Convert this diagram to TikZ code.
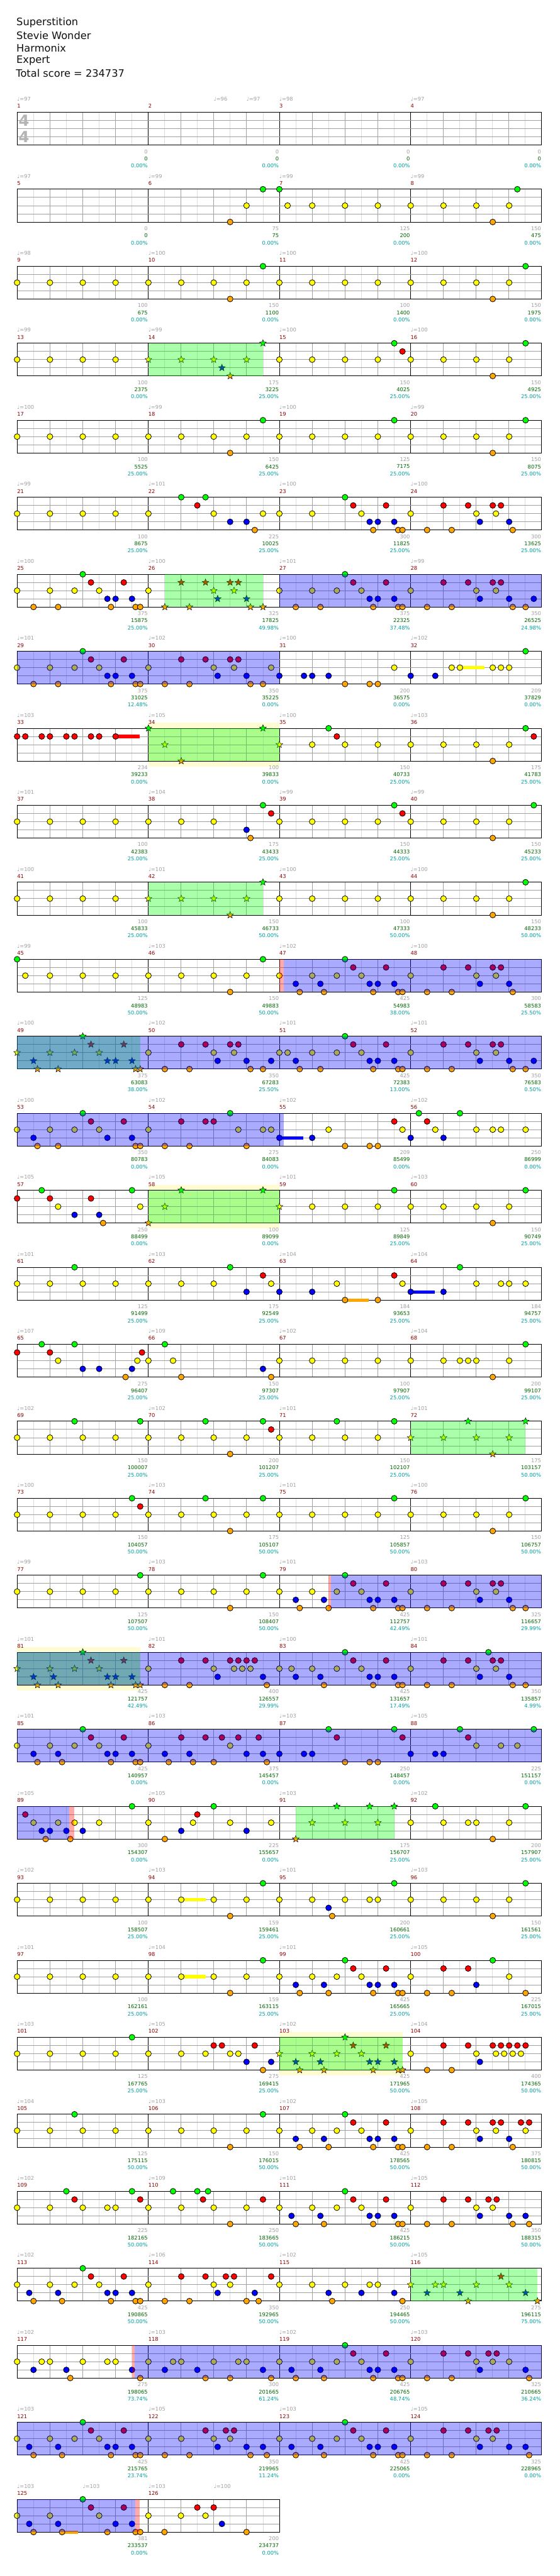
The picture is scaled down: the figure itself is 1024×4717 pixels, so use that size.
\documentclass[tikz,border=0pt]{standalone}
\usepackage{fontspec}
\setmainfont{DejaVu Sans}
\usetikzlibrary{shapes.geometric}
\definecolor{inkText}{RGB}{17,17,17}
\definecolor{inkGrid}{RGB}{160,160,160}
\definecolor{inkSub}{RGB}{220,220,220}
\definecolor{inkMeter}{RGB}{180,180,180}
\definecolor{inkBar}{RGB}{139,0,0}
\definecolor{inkTotal}{RGB}{0,100,0}
\definecolor{inkPct}{RGB}{0,160,160}
\definecolor{lane0}{RGB}{0,255,0}
\definecolor{lane1}{RGB}{255,0,0}
\definecolor{lane2}{RGB}{255,255,0}
\definecolor{lane3}{RGB}{0,0,255}
\definecolor{lane4}{RGB}{255,165,0}

\tikzset{
  lanes/.style={x=0.65306pt, xshift=-0.047pt},
  songline/.style={anchor=west, inner sep=0pt, text=inkText, font=\fontsize{18.7}{22}\selectfont},
  timesig/.style={inner sep=0pt, text=inkMeter, font=\fontsize{28}{28}\selectfont\bfseries},
  chartfont/.style={inner sep=0pt, font=\fontsize{9.6}{11}\selectfont},
  barnum/.style={chartfont, anchor=west, text=inkBar},
  bpm/.style={chartfont, anchor=west, text=inkGrid},
  pts/.style={chartfont, anchor=east, text=inkGrid},
  total/.style={chartfont, anchor=east, text=inkTotal},
  pct/.style={chartfont, anchor=east, text=inkPct},
  subline/.style={draw=inkSub, line width=1pt},
  beatline/.style={draw=inkGrid, line width=1pt},
  barline/.style={draw=black, line width=1pt},
  gem/.style={draw=black, line width=0.9pt},
  spstar/.style={star, star points=5, star point ratio=2.3, minimum size=13pt, inner sep=0pt, draw=black, line width=0.6pt},
  soloarea/.style={fill=yellow, fill opacity=0.18},
}

\newcommand\quarterbeats{48,140,232,324,416,508,599,691,783,875,967,1059,1151,1243,1335,1427}
\newcommand\rowtop[1]{\pgfmathsetmacro\T{205.5+141*#1}}
% #1 row, #2 first bar, #3 tempo marks, #4 scores, #5 bars in the row
\newcommand\staff[5]{%
  \rowtop{#1}%
  \pgfmathsetmacro\R{31.3+240*#5}%
  \pgfmathtruncatemacro\nh{8*#5-1}%
  \pgfmathtruncatemacro\nb{#5-1}%
  \foreach \k in {1,3,...,\nh} \draw[subline] (31.3+30*\k,\T) -- ++(0,60);
  \foreach \k in {2,4,...,\nh} \draw[beatline] (31.3+30*\k,\T) -- ++(0,60);
  \foreach \k in {1,...,\nb} \draw[barline] (31.3+240*\k,\T) -- ++(0,60);
  \foreach \l in {1,2,3} \draw[beatline] (31.3,\T+15*\l) -- (\R,\T+15*\l);
  \draw[barline] (31.3,\T) rectangle (\R,\T+60);
  \foreach \k in {1,...,#5}{
    \pgfmathtruncatemacro\m{#2+\k-1}
    \node[barnum] (bar\m) at (31.3+240*\k-240,\T-11) {\m};
  }
  \foreach \a/\v [count=\i] in {#3}
    \node[bpm] (bpm#1-\i) at ({-0.047+0.65306*\a},\T-24) {♩=\v};
  \foreach \ptsv/\totv/\pctv [count=\k] in {#4}{
    \pgfmathtruncatemacro\m{#2+\k-1}
    \node[pts] (pts\m) at (30.5+240*\k,\T+72) {\ptsv};
    \node[total] (total\m) at (30.5+240*\k,\T+85) {\totv};
    \node[pct] (pct\m) at (30.5+240*\k,\T+98) {\pctv\%};
  }
}
\newcommand\soloband[2]{%
  \rowtop{#1}%
  \begin{scope}[lanes]
    \foreach \a/\b in {#2} \fill[soloarea] (\a,\T-10) rectangle (\b,\T+70);
  \end{scope}}
\newcommand\holds[2]{%
  \rowtop{#1}%
  \begin{scope}[lanes]
    \foreach \a/\b/\l in {#2} \fill[lane\l] (\a,\T+15*\l-3) rectangle (\b,\T+15*\l+3);
  \end{scope}}
\newcommand\gems[3]{%
  \rowtop{#1}%
  \edef\gemlist{#3}%
  \begin{scope}[lanes]
    \foreach \a in \gemlist \filldraw[gem, fill=lane#2] (\a,\T+15*#2) circle[radius=5.3pt];
  \end{scope}}
\newcommand\spstars[2]{%
  \rowtop{#1}%
  \begin{scope}[lanes]
    \foreach \a/\l [count=\i] in {#2} \node[spstar, fill=lane\l] (star#1-\i) at (\a,\T+15*\l) {};
  \end{scope}}
\newcommand\tint[2]{%
  \rowtop{#1}%
  \begin{scope}[lanes]
    \foreach \q/\a/\b in {#2} \fill[fill=\q, fill opacity=0.333] (\a,\T) rectangle (\b,\T+60);
  \end{scope}}

\begin{document}
\begin{tikzpicture}[x=1pt, y=-1pt]
\useasboundingbox (0,0) rectangle (1024,4717);
\fill[white] (0,0) rectangle (1024,4717);

% header
\node[songline] (song) at (30,42) {Superstition};
\node[songline] (artist) at (30,65) {Stevie Wonder};
\node[songline] (charter) at (30,88) {Harmonix};
\node[songline] (level) at (30,111) {Expert};
\node[songline] (score) at (29,134) {Total score = 234737};

% bars 1-4
\staff{0}{1}{48/97,599/96,691/97,783/98,1151/97}{0/0/0.00,0/0/0.00,0/0/0.00,0/0/0.00}{4}
\node[timesig] (meterTop) at (44,221) {4};
\node[timesig] (meterBot) at (44,250.5) {4};

% bars 5-8
\staff{1}{5}{48/97,416/99,783/99,1151/99}{0/0/0.00,75/75/0.00,125/200/0.00,150/475/0.00}{4}
\gems{1}{0}{737,783,1450}
\gems{1}{2}{691,806,875,967,1059,1151,1243,1335,1427}
\gems{1}{4}{645,1381}

% bars 9-12
\staff{2}{9}{48/98,416/100,783/100,1151/100}{100/675/0.00,150/1100/0.00,100/1400/0.00,150/1975/0.00}{4}
\gems{2}{2}{\quarterbeats}
\gems{2}{0}{737,1473}
\gems{2}{4}{645,1381}

% bars 13-16
\staff{3}{13}{48/99,416/99,783/100,1151/100}{100/2375/0.00,175/3225/25.00,150/4025/25.00,150/4925/25.00}{4}
\gems{3}{2}{48,140,232,324,783,875,967,1059,1151,1243,1335,1427}
\gems{3}{0}{1105,1473}
\gems{3}{1}{1128}
\gems{3}{4}{1381}
\spstars{3}{416/2,508/2,599/2,691/2,622/3,645/4,737/0}
\tint{3}{green/416/737}

% bars 17-20
\staff{4}{17}{48/100,416/99,783/100,1151/99}{100/5525/25.00,150/6425/25.00,125/7175/25.00,150/8075/25.00}{4}
\gems{4}{2}{\quarterbeats}
\gems{4}{0}{737,1105,1473}
\gems{4}{4}{645,1381}

% bars 21-24
\staff{5}{21}{48/99,416/101,783/100,1151/100}{100/8675/25.00,225/10025/25.00,300/11825/25.00,300/13625/25.00}{4}
\gems{5}{0}{508,576,967}
\gems{5}{1}{553,990,1082,1243,1312,1381,1404}
\gems{5}{2}{48,140,232,324,416,599,737,783,875,1013,1151,1335,1390}
\gems{5}{3}{645,691,1036,1059,1105,1345,1427}
\gems{5}{4}{714,1046,1116,1128,1197,1266,1437}

% bars 25-28
\staff{6}{25}{48/100,416/100,783/101,1151/99}{375/15875/25.00,325/17825/49.98,375/22325/37.48,350/26525/24.98}{4}
\gems{6}{0}{232,967}
\gems{6}{1}{255,347,990,1082,1243,1312,1381,1404}
\gems{6}{2}{48,140,209,278,416,783,875,944,1013,1151,1335,1390}
\gems{6}{3}{301,324,370,1036,1059,1105,1345,1427,1496}
\gems{6}{4}{94,163,311,380,393,829,898,1046,1116,1128,1197,1266,1437,1473}
\spstars{6}{508/1,576/1,645/1,668/1,599/2,656/2,610/3,691/3,462/4,531/4,702/4,737/4}
\tint{6}{green/462/737,blue/783/1518}

% bars 29-32
\staff{7}{29}{48/101,416/102,783/100,1151/102}{375/31025/12.48,350/35225/0.00,200/36575/0.00,209/37829/0.00}{4}
\holds{7}{1289/1357/2}
\gems{7}{0}{232,1473}
\gems{7}{1}{255,347,508,576,645,668}
\gems{7}{2}{48,140,209,278,416,599,656,760,1105,1266,1289,1381,1404,1427}
\gems{7}{3}{301,324,370,610,691,783,852,875,921,1151,1220}
\gems{7}{4}{94,163,311,380,393,462,531,702,737,967,1036,1059}
\tint{7}{blue/48/783}

% bars 33-36
\soloband{8}{416/783}
\staff{8}{33}{48/103,416/105,783/100,1151/103}{234/39233/0.00,100/39833/0.00,150/40733/25.00,175/41783/25.00}{4}
\holds{8}{324/391/1}
\gems{8}{0}{921,1473}
\gems{8}{1}{48,71,117,140,186,209,255,278,324,944,1496}
\gems{8}{2}{875,967,1059,1151,1243,1335,1427}
\gems{8}{4}{1381}
\spstars{8}{416/0,737/0,462/2,783/2,508/4}
\tint{8}{green/416/783}

% bars 37-40
\staff{9}{37}{48/101,416/104,783/99,1151/99}{100/42383/25.00,175/43433/25.00,150/44333/25.00,150/45233/25.00}{4}
\gems{9}{0}{737,1105,1496}
\gems{9}{1}{760,1128}
\gems{9}{2}{48,140,232,324,416,508,599,783,875,967,1059,1151,1243,1335,1427}
\gems{9}{3}{691}
\gems{9}{4}{702,1381}

% bars 41-44
\staff{10}{41}{48/100,416/101,783/100,1151/100}{100/45833/25.00,150/46733/50.00,100/47333/50.00,150/48233/50.00}{4}
\gems{10}{2}{48,140,232,324,783,875,967,1059,1151,1243,1335,1427}
\gems{10}{0}{1473}
\gems{10}{4}{1381}
\spstars{10}{416/2,508/2,599/2,691/2,645/4,737/0}
\tint{10}{green/416/737}

% bars 45-48
\staff{11}{45}{48/99,416/103,783/102,1151/100}{125/48983/50.00,150/49883/50.00,425/54983/38.00,300/58583/25.50}{4}
\gems{11}{0}{48,737,967}
\gems{11}{1}{990,1082,1243,1312,1381,1404}
\gems{11}{2}{71,140,232,324,416,508,599,691,783,875,944,1013,1151,1335,1390}
\gems{11}{3}{829,898,1036,1059,1105,1345,1427}
\gems{11}{4}{645,840,908,1046,1116,1128,1197,1266,1437}
\tint{11}{red/783/796,blue/796/1518}

% bars 49-52
\staff{12}{49}{48/100,416/102,783/101,1151/101}{375/63083/38.00,350/67283/25.50,425/72383/13.00,350/76583/0.50}{4}
\gems{12}{0}{967}
\gems{12}{1}{508,576,645,668,990,1082,1243,1312,1381,1404}
\gems{12}{2}{416,599,656,783,806,875,944,1013,1151,1335,1390}
\gems{12}{3}{610,691,760,829,1036,1059,1105,1345,1427,1496}
\gems{12}{4}{462,531,702,737,840,898,1046,1116,1128,1197,1266,1437,1473}
\spstars{12}{48/2,140/2,209/2,278/2,232/0,255/1,347/1,94/3,301/3,324/3,370/3,105/4,163/4,380/4,393/4}
\tint{12}{green/48/393,blue/48/1518}

% bars 53-56
\staff{13}{53}{48/100,416/102,783/102,1151/102}{350/80783/0.00,275/84083/0.00,209/85499/0.00,250/86999/0.00}{4}
\holds{13}{783/850/3}
\gems{13}{0}{232,645,1174,1289}
\gems{13}{1}{255,347,508,576,599,1105,1197}
\gems{13}{2}{48,140,209,278,416,668,737,760,921,1128,1220,1335,1381,1404,1473}
\gems{13}{3}{94,301,370,783,875,1151,1243}
\gems{13}{4}{105,163,380,393,462,531,691,967,1036,1059}
\tint{13}{blue/48/796}

% bars 57-60
\soloband{14}{416/783}
\staff{14}{57}{48/105,416/105,783/101,1151/103}{250/88499/0.00,100/89099/0.00,125/89849/25.00,150/90749/25.00}{4}
\gems{14}{0}{117,370,1105,1473}
\gems{14}{1}{48,140,255}
\gems{14}{2}{163,393,875,967,1059,1151,1243,1335,1427}
\gems{14}{3}{209,278}
\gems{14}{4}{289,1381}
\spstars{14}{416/4,508/0,737/0,462/2,783/2}
\tint{14}{green/416/783}

% bars 61-64
\staff{15}{61}{48/101,416/103,783/104,1151/104}{125/91499/25.00,175/92549/25.00,184/93653/25.00,184/94757/25.00}{4}
\holds{15}{1151/1218/3,967/1034/4}
\gems{15}{0}{209,645,1289}
\gems{15}{1}{737,1105}
\gems{15}{2}{48,140,232,324,416,508,599,760,944,1128,1335,1404,1427,1473}
\gems{15}{3}{691,783,875,1151,1243}
\gems{15}{4}{967,1059}

% bars 65-68
\staff{16}{65}{48/107,416/109,783/102,1151/104}{275/96407/25.00,150/97307/25.00,100/97907/25.00,200/99107/25.00}{4}
\gems{16}{0}{117,209,462,1473}
\gems{16}{1}{48,140,398}
\gems{16}{2}{163,385,416,485,783,875,967,1059,1151,1243,1289,1312,1335,1427}
\gems{16}{3}{232,278,370,737}
\gems{16}{4}{352,508,760,1381}

% bars 69-72
\staff{17}{69}{48/102,416/102,783/101,1151/101}{150/100007/25.00,200/101207/25.00,150/102107/25.00,175/103157/50.00}{4}
\gems{17}{0}{209,393,576,737,944,1105}
\gems{17}{1}{760}
\gems{17}{2}{48,140,232,324,416,508,599,691,783,875,967,1059}
\gems{17}{4}{645}
\spstars{17}{1151/2,1243/2,1335/2,1427/2,1312/0,1473/0,1381/4}
\tint{17}{green/1151/1473}

% bars 73-76
\staff{18}{73}{48/100,416/103,783/101,1151/100}{150/104057/50.00,175/105107/50.00,125/105857/50.00,150/106757/50.00}{4}
\gems{18}{0}{370,576,737,1105,1473}
\gems{18}{1}{393}
\gems{18}{2}{\quarterbeats}
\gems{18}{4}{645,1381}

% bars 77-80
\staff{19}{77}{48/99,416/103,783/101,1151/103}{125/107507/50.00,150/108407/50.00,425/112757/42.49,325/116657/29.99}{4}
\gems{19}{0}{393,737,967}
\gems{19}{1}{990,1082,1243,1312,1381,1404}
\gems{19}{2}{48,140,232,324,416,508,599,691,783,875,944,1013,1151,1335,1390}
\gems{19}{3}{829,908,1036,1059,1105,1345,1427}
\gems{19}{4}{645,840,921,1046,1116,1128,1197,1266,1437,1473}
\tint{19}{red/921/928,blue/928/1518}

% bars 81-84
\soloband{20}{48/393}
\staff{20}{81}{48/101,416/101,783/100,1151/101}{425/121757/42.49,400/126557/29.99,425/131657/17.49,350/135857/4.99}{4}
\gems{20}{0}{967,1369}
\gems{20}{1}{508,576,645,668,691,714,990,1082,1243,1312,1381,1404}
\gems{20}{2}{416,599,656,679,702,783,817,875,944,1013,1151,1335,1390}
\gems{20}{3}{610,737,829,898,1036,1059,1105,1345,1427}
\gems{20}{4}{462,531,748,908,1046,1116,1128,1197,1266,1437,1473}
\spstars{20}{48/2,140/2,209/2,278/2,232/0,255/1,347/1,94/3,150/3,301/3,324/3,370/3,105/4,163/4,311/4,380/4,393/4}
\tint{20}{green/48/393,blue/48/1518}

% bars 85-88
\staff{21}{85}{48/101,416/103,783/103,1151/105}{425/140957/0.00,375/145457/0.00,250/148457/0.00,225/151157/0.00}{4}
\gems{21}{0}{232,921,1105,1289,1496}
\gems{21}{1}{255,347,508,576,622,668,725,944,1128,1312}
\gems{21}{2}{48,140,209,278,416,645,1335,1404,1450}
\gems{21}{3}{94,163,301,324,370,462,531,691,737,783,852,875,1151,1220,1243}
\gems{21}{4}{105,174,311,380,393,473,541,599,748,967,1036,1059}
\tint{21}{blue/48/1518}

% bars 89-92
\staff{22}{89}{48/105,416/105,783/103,1151/102}{300/154307/0.00,225/155657/0.00,175/156707/25.00,200/157907/25.00}{4}
\gems{22}{0}{370,599,1220,1473}
\gems{22}{1}{71,553}
\gems{22}{2}{94,163,209,278,416,541,645,760,1151,1243,1312,1335,1427}
\gems{22}{3}{117,140,186,232,508,691}
\gems{22}{4}{128,197,462,1381}
\spstars{22}{829/4,875/2,967/2,1059/2,944/0,1036/0,1105/0}
\tint{22}{blue/48/194,red/194/208,green/829/1105}

% bars 93-96
\staff{23}{93}{48/102,416/103,783/101,1151/103}{100/158507/25.00,159/159461/25.00,200/160661/25.00,150/161561/25.00}{4}
\holds{23}{508/576/2}
\gems{23}{0}{737,1105,1473}
\gems{23}{2}{48,140,232,324,416,508,599,691,783,875,967,1036,1059,1151,1243,1335,1427}
\gems{23}{3}{921}
\gems{23}{4}{645,931,1381}

% bars 97-100
\staff{24}{97}{48/101,416/104,783/101,1151/105}{100/162161/25.00,159/163115/25.00,425/165665/25.00,225/167015/25.00}{4}
\holds{24}{508/576/2}
\gems{24}{0}{737,967,1381}
\gems{24}{1}{990,1082,1243,1312}
\gems{24}{2}{48,140,232,324,416,508,599,691,783,875,944,1013,1151,1427}
\gems{24}{3}{829,908,1036,1059,1105,1335}
\gems{24}{4}{645,840,921,1046,1116,1128,1197,1266,1473}

% bars 101-104
\soloband{25}{783/1128}
\staff{25}{101}{48/103,416/105,783/102,1151/104}{125/167765/25.00,275/169415/25.00,425/171965/50.00,400/174365/50.00}{4}
\gems{25}{0}{370}
\gems{25}{1}{599,622,714,1243,1312,1381,1404,1427,1450,1473}
\gems{25}{2}{48,140,232,324,416,508,576,645,668,1151,1335,1390,1413,1437,1460}
\gems{25}{3}{691,760,1345}
\gems{25}{4}{737,1197,1266}
\spstars{25}{783/2,875/2,944/2,1013/2,967/0,990/1,1082/1,829/3,898/3,1036/3,1059/3,1105/3,840/4,908/4,1046/4,1116/4,1128/4}
\tint{25}{green/783/1128}

% bars 105-108
\staff{26}{105}{48/104,416/103,783/102,1151/105}{125/175115/50.00,150/176015/50.00,425/178565/50.00,375/180815/50.00}{4}
\gems{26}{0}{209,737,967}
\gems{26}{1}{990,1082,1243,1312,1381,1404,1460,1483}
\gems{26}{2}{48,140,232,324,416,508,599,691,783,875,944,1013,1151,1335,1390,1473}
\gems{26}{3}{829,908,1036,1059,1105,1345,1427}
\gems{26}{4}{645,840,921,1046,1116,1128,1197,1266,1437}

% bars 109-112
\staff{27}{109}{48/102,416/109,783/101,1151/105}{225/182165/50.00,250/183665/50.00,425/186215/50.00,350/188315/50.00}{4}
\gems{27}{0}{186,370,485,553,583,967}
\gems{27}{1}{209,393,569,737,990,1082,1243,1312,1369,1392}
\gems{27}{2}{48,140,232,301,324,416,508,599,691,783,875,944,1013,1151,1335,1381}
\gems{27}{3}{817,898,1036,1059,1105,1345,1427,1473}
\gems{27}{4}{645,829,908,1046,1116,1128,1197,1266,1437,1483}

% bars 113-116
\staff{28}{113}{48/102,416/106,783/102,1151/105}{425/190865/50.00,350/192965/50.00,250/194465/50.00,275/196115/75.00}{4}
\gems{28}{0}{232}
\gems{28}{1}{255,347,508,576,633,656,760}
\gems{28}{2}{48,140,209,278,416,599,645,783,875,967,1036,1059}
\gems{28}{3}{82,163,301,324,370,610,714,921,1013,1105}
\gems{28}{4}{94,174,311,380,393,462,531,691,725,931,1128}
\spstars{28}{1151/2,1220/2,1243/2,1335/2,1427/2,1404/1,1197/3,1289/3,1473/3,1312/4,1506/4}
\tint{28}{green/1151/1506}

% bars 117-120
\staff{29}{117}{48/102,416/103,783/102,1151/103}{275/198065/73.74,300/201665/61.24,425/206765/48.74,325/210665/36.24}{4}
\gems{29}{0}{967}
\gems{29}{1}{990,1082,1243,1312,1369,1392}
\gems{29}{2}{48,117,140,232,301,324,416,485,508,599,668,691,783,875,944,1013,1151,1335,1381,1427}
\gems{29}{3}{94,186,370,462,553,737,817,898,1036,1059,1105,1345,1473}
\gems{29}{4}{197,393,576,645,760,829,908,1046,1116,1128,1197,1266,1483}
\tint{29}{red/370/377,blue/377/1518}

% bars 121-124
\staff{30}{121}{48/103,416/105,783/103,1151/105}{425/215765/23.74,350/219965/11.24,425/225065/0.00,325/228965/0.00}{4}
\gems{30}{0}{232,967}
\gems{30}{1}{255,347,576,633,656,990,1082,1243,1312,1369,1392}
\gems{30}{2}{48,140,209,278,416,508,599,645,783,875,944,1013,1151,1335,1381}
\gems{30}{3}{82,163,301,324,370,610,691,737,817,898,1036,1059,1105,1345,1427,1473}
\gems{30}{4}{94,174,311,380,393,462,531,702,748,829,908,1046,1116,1128,1197,1266,1483}
\tint{30}{blue/48/1518}

% bars 125-126
\staff{31}{125}{48/103,232/103,416/103,599/100}{381/233537/0.00,200/234737/0.00}{2}
\holds{31}{174/219/4}
\gems{31}{0}{232}
\gems{31}{1}{255,347,553,599}
\gems{31}{2}{48,140,278,416,507,576}
\gems{31}{3}{82,163,324,370,622}
\gems{31}{4}{94,174,301,380,393,461,691}
\tint{31}{blue/48/379,red/379/392}
\end{tikzpicture}
\end{document}
